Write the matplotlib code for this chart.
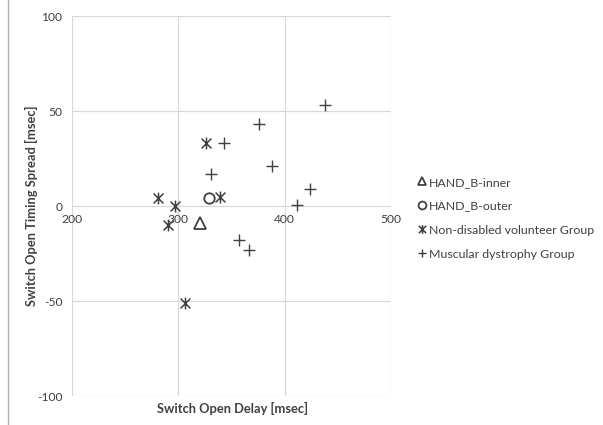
import matplotlib
matplotlib.use("Agg")
import matplotlib.pyplot as plt
from matplotlib.lines import Line2D
from matplotlib.path import Path

# data
inner_x = [320]
inner_y = [-9]
outer_x = [329]
outer_y = [4]
volunteer_x = [281, 297, 290, 326, 339, 306]
volunteer_y = [4, 0, -10, 33, 5, -51]
dystrophy_x = [343, 331, 376, 388, 412, 424, 438, 357, 366]
dystrophy_y = [33, 17, 43, 21, 0.5, 9, 53, -18, -23]

x_ticks = [200, 300, 400, 500]
y_ticks = [-100, -50, 0, 50, 100]

ink = "#404040"
grid = "#d9d9d9"
font = ["Lato", "DejaVu Sans"]
plt.rcParams["font.family"] = font
plt.rcParams["axes.unicode_minus"] = False

# asterisk like the spreadsheet one: an X with a vertical bar
star = Path([(-1, -1), (1, 1), (-1, 1), (1, -1), (0, -1.2), (0, 1.2)],
            [Path.MOVETO, Path.LINETO, Path.MOVETO, Path.LINETO, Path.MOVETO, Path.LINETO])

fig = plt.figure(figsize=(6.03, 4.25), dpi=100)
ax = fig.add_axes([0.1194, 0.0682, 0.529, 0.8941])

ax.set_xlim(200, 500)
ax.set_ylim(-100, 100)
ax.set_xticks(x_ticks)
ax.set_yticks(y_ticks)
ax.grid(True, color=grid, lw=0.9)
ax.set_axisbelow(True)
for s in ax.spines.values():
    s.set_visible(False)
ax.spines["bottom"].set_position(("data", 0))
ax.tick_params(length=0, labelsize=8.7, labelcolor=ink)
ax.tick_params(axis="x", pad=6)
ax.tick_params(axis="y", pad=7)

kw = dict(color=ink, linestyle="none", clip_on=False)
ax.plot(inner_x, inner_y, marker="^", markersize=8, markerfacecolor="none",
        markeredgewidth=1.3, label="HAND_B-inner", **kw)
ax.plot(outer_x, outer_y, marker="o", markersize=7.5, markerfacecolor="none",
        markeredgewidth=1.3, label="HAND_B-outer", **kw)
ax.plot(volunteer_x, volunteer_y, marker=star, markersize=8.5,
        markeredgewidth=1.1, label="Non-disabled volunteer Group", **kw)
ax.plot(dystrophy_x, dystrophy_y, marker="+", markersize=8.5,
        markeredgewidth=1.0, label="Muscular dystrophy Group", **kw)

fig.text(0.385, 0.04, "Switch Open Delay [msec]", ha="center", va="center",
         fontsize=9.3, fontweight="bold", color=ink)
fig.text(0.053, 0.515, "Switch Open Timing Spread [msec]", ha="center", va="center",
         rotation=90, fontsize=9.3, fontweight="bold", color=ink)

leg = fig.legend(loc="upper left", bbox_to_anchor=(0.683, 0.599), frameon=False,
                 fontsize=8.9, handlelength=0.6, handletextpad=0.3,
                 labelspacing=1.05, borderpad=0, markerscale=0.75)
for t in leg.get_texts():
    t.set_color(ink)

fig.add_artist(Line2D([0.013, 0.013], [0.0, 1.0], color="#b0b0b0", lw=1.0))

fig.savefig("out.png", dpi=100)
